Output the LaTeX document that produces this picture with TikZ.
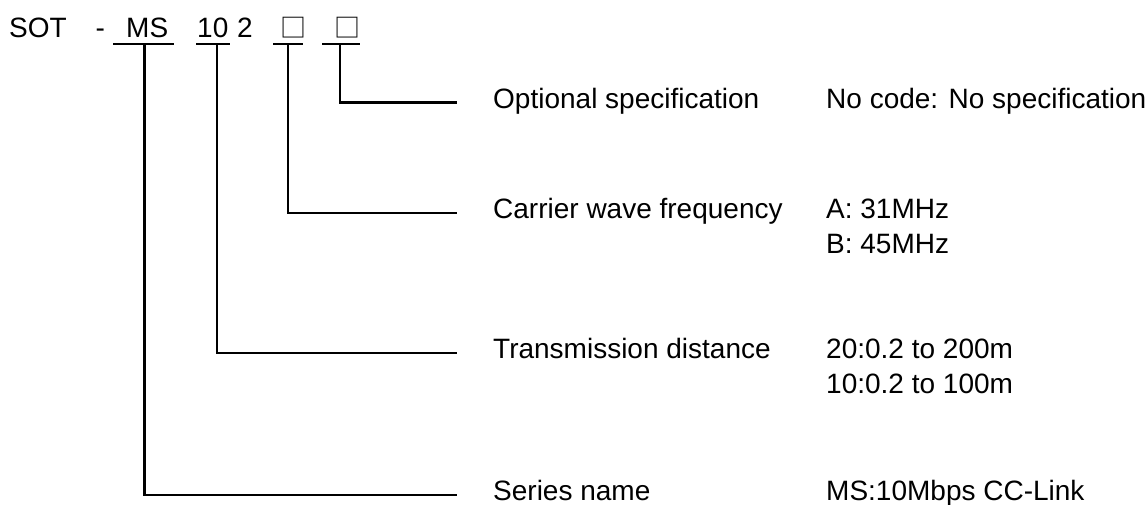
\documentclass[tikz,border=0pt]{standalone}
\usepackage{fontspec}
\setmainfont{Liberation Sans}
\newfontfamily\boxfont{Noto Sans CJK JP}

\begin{document}
\begin{tikzpicture}[x=1pt, y=-1pt,
    code/.style={anchor=base west, inner sep=0pt, font=\fontsize{28}{35}\selectfont},
    blank/.style={anchor=base west, inner sep=0pt, font=\boxfont\fontsize{26}{30}\selectfont},
    txt/.style={anchor=base west, inner sep=0pt, align=left, font=\fontsize{28}{35}\selectfont},
    lead/.style={line width=2.5pt}]

  \useasboundingbox (0,0) rectangle (1147,504);

  % Model code
  \node[code] (sot) at (9,37) {SOT};
  \node[code] (dash) at (95.5,37) {-};
  \node[code] (ms) at (126,37) {MS};
  \node[code] (dist) at (197,37) {10};
  \node[code] (two) at (237,37) {2};
  \node[blank] (freq) at (280,37) {□};
  \node[blank] (opt) at (334,37) {□};

  % Underlines
  \draw[lead] (113,44) -- (174,44);
  \draw[lead] (196,44) -- (230,44);
  \draw[lead] (273,44) -- (303,44);
  \draw[lead] (322,44) -- (360,44);

  % Leader lines
  \coordinate (optj) at (340,44);
  \coordinate (optend) at (457,102.5);
  \draw[lead] (optj) |- (optend);

  \coordinate (freqj) at (288,44);
  \coordinate (freqend) at (457,213);
  \draw[lead] (freqj) |- (freqend);

  \coordinate (distj) at (217,44);
  \coordinate (distend) at (457,353);
  \draw[lead] (distj) |- (distend);

  \coordinate (msj) at (144.5,44);
  \coordinate (msend) at (457,495);
  \draw[lead] (msj) |- (msend);

  % Items
  \node[txt] (optname) at ([shift={(36,5.5)}]optend) {Optional specification};
  \node[txt] (freqname) at ([shift={(36,5)}]freqend) {Carrier wave frequency};
  \node[txt] (distname) at ([shift={(36,5)}]distend) {Transmission distance};
  \node[txt] (msname) at ([shift={(36,5)}]msend) {Series name};

  % Codes (two-line nodes sit on their last baseline)
  \node[txt] (optval) at (826,108) {No code: No specification};
  \node[txt] (freqval) at (826,253) {A: 31MHz\\B: 45MHz};
  \node[txt] (distval) at (826,393) {20:0.2 to 200m\\10:0.2 to 100m};
  \node[txt] (msval) at (826,500) {MS:10Mbps CC-Link};

\end{tikzpicture}
\end{document}
